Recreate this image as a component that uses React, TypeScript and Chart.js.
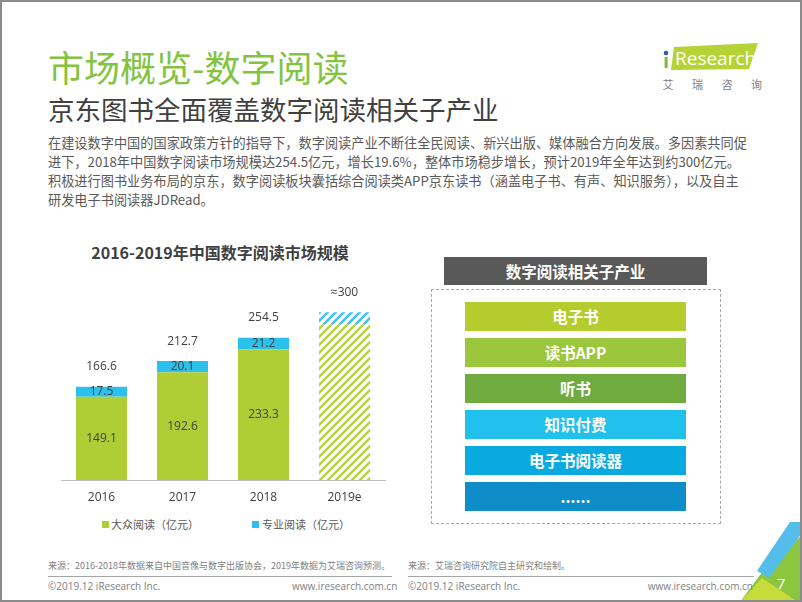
import React, { useEffect, useRef } from 'react';
import { Chart, registerables } from 'chart.js';

Chart.register(...registerables);

// ---------- data ----------
const years = ['2016', '2017', '2018', '2019e'];
const massReading = [149.1, 192.6, 233.3, 278];
const proReading = [17.5, 20.1, 21.2, 22];
const isEstimate = [false, false, false, true];
const seriesNames = ['大众阅读（亿元）', '专业阅读（亿元）'];
const chartTitle = '2016-2019年中国数字阅读市场规模';
const industryTitle = '数字阅读相关子产业';
const industries = ['电子书', '读书APP', '听书', '知识付费', '电子书阅读器', '......'];
const paragraphLines = [
  '在建设数字中国的国家政策方针的指导下，数字阅读产业不断往全民阅读、新兴出版、媒体融合方向发展。多因素共同促',
  '进下，2018年中国数字阅读市场规模达254.5亿元，增长19.6%，整体市场稳步增长，预计2019年全年达到约300亿元。',
  '积极进行图书业务布局的京东，数字阅读板块囊括综合阅读类APP京东读书（涵盖电子书、有声、知识服务），以及自主',
  '研发电子书阅读器JDRead。',
];

// ---------- styles ----------
const GREEN = '#afcd35';
const BLUE = '#2cc0ed';
const industryColors = ['#b5cc2e', '#9cc63c', '#70ab3f', '#21c0ed', '#0aaae1', '#0e8dc9'];
const CJK = "'Noto Sans CJK SC', 'Noto Sans', sans-serif";
const LATIN = "'Open Sans', 'Noto Sans CJK SC', sans-serif";

function stripes(color: string): CanvasPattern | string {
  const c = document.createElement('canvas');
  c.width = 8;
  c.height = 8;
  const g = c.getContext('2d');
  if (!g) return color;
  g.strokeStyle = color;
  g.lineWidth = 2.6;
  g.beginPath();
  g.moveTo(-1, 9); g.lineTo(9, -1);
  g.moveTo(-1, 1); g.lineTo(1, -1);
  g.moveTo(7, 9); g.lineTo(9, 7);
  g.stroke();
  return g.createPattern(c, 'repeat') || color;
}

const labelPlugin = {
  id: 'barLabels',
  afterDatasetsDraw(chart: any) {
    const ctx = chart.ctx;
    ctx.save();
    ctx.font = `12px ${LATIN}`;
    ctx.fillStyle = '#404040';
    ctx.textAlign = 'center';
    ctx.textBaseline = 'middle';
    chart.data.datasets.forEach((ds: any, di: number) => {
      const meta = chart.getDatasetMeta(di);
      meta.data.forEach((bar: any, i: number) => {
        if (isEstimate[i]) return;
        const { x, y, base } = bar.getProps(['x', 'y', 'base'], true);
        ctx.fillText(String(ds.data[i]), x, (y + base) / 2);
      });
    });
    const topMeta = chart.getDatasetMeta(chart.data.datasets.length - 1);
    topMeta.data.forEach((bar: any, i: number) => {
      const total = massReading[i] + proReading[i];
      const txt = isEstimate[i] ? '≈' + Math.round(total) : total.toFixed(1);
      ctx.fillText(txt, bar.x, bar.y - 20);
    });
    ctx.restore();
  },
};

function MarketChart() {
  const ref = useRef<HTMLCanvasElement | null>(null);
  useEffect(() => {
    if (!ref.current) return;
    const massColors = isEstimate.map((e) => (e ? stripes('#b9d340') : GREEN));
    const proColors = isEstimate.map((e) => (e ? stripes('#3cc3ee') : BLUE));
    const chart = new Chart(ref.current, {
      type: 'bar',
      data: {
        labels: years,
        datasets: [
          { label: seriesNames[0], data: massReading, backgroundColor: massColors as any, borderWidth: 0, barPercentage: 0.63, categoryPercentage: 1 },
          { label: seriesNames[1], data: proReading, backgroundColor: proColors as any, borderWidth: 0, barPercentage: 0.63, categoryPercentage: 1 },
        ],
      },
      options: {
        animation: false,
        responsive: false,
        maintainAspectRatio: false,
        layout: { padding: { left: 11, right: 10, top: 30, bottom: 0 } },
        plugins: { legend: { display: false }, tooltip: { enabled: false }, title: { display: false } },
        scales: {
          x: {
            stacked: true,
            grid: { display: false, drawTicks: false },
            border: { display: true, color: '#bfbfbf', width: 1 },
            ticks: { color: '#404040', font: { size: 12, family: LATIN }, padding: 10 },
            afterFit: (s: any) => { s.height = 30; },
          },
          y: { stacked: true, display: false, min: 0, max: 322 },
        },
      },
      plugins: [labelPlugin],
    });
    return () => chart.destroy();
  }, []);
  return <canvas ref={ref} width={345} height={240} style={{ position: 'absolute', left: 50, top: 270, width: 345, height: 240, display: 'block' }} />;
}

const abs = (s: React.CSSProperties): React.CSSProperties => ({ position: 'absolute', whiteSpace: 'nowrap', ...s });

export default function App() {
  return (
    <div style={{ position: 'absolute', left: 0, top: 0, width: 802, height: 602, background: '#fff', overflow: 'hidden', fontFamily: CJK }}>
      {/* titles */}
      <div style={abs({ left: 48, top: 46, fontSize: 36, lineHeight: '40px', color: '#84c341' })}>市场概览-数字阅读</div>
      <div style={abs({ left: 48, top: 94, fontSize: 26.5, lineHeight: '30px', color: '#404040' })}>京东图书全面覆盖数字阅读相关子产业</div>

      {/* logo */}
      <svg style={{ position: 'absolute', left: 0, top: 0 }} width={802} height={602}>
        <polygon points="674,47 758,43 749,69 671,70" fill="#b5d334" />
        <text x={675} y={65} fontSize={19} fill="#fff" fontFamily={LATIN}>Research</text>
        <circle cx={666} cy={53} r={2.3} fill="#2a5ea8" />
        <rect x={664.6} y={57} width={3} height={11} fill="#7fb93a" />
        {['艾', '瑞', '咨', '询'].map((ch, i) => (
          <text key={ch} x={668 + i * 29.5} y={89} fontSize={11} fill="#808080" textAnchor="middle" fontFamily={CJK}>{ch}</text>
        ))}
        {/* corner decoration */}
        <polygon points="740,602 760,575 802,535 802,602" fill="#8cc63f" />
        <polygon points="740,602 762,578 798,602" fill="#c6dc3a" />
        <polygon points="790,522 802,522 802,533 769,578 757,571" fill="#55bde9" />
        <text x={781} y={589} fontSize={15} fill="#fff" textAnchor="middle" fontFamily={LATIN}>7</text>
      </svg>

      {/* paragraph */}
      {paragraphLines.map((t, i) => (
        <div key={i} style={abs({ left: 48, top: 132.5 + i * 19, fontSize: 13.2, lineHeight: '19px', color: '#595959' })}>{t}</div>
      ))}

      {/* chart */}
      <div style={abs({ left: 20, width: 400, top: 242, fontSize: 16, fontWeight: 700, lineHeight: '20px', color: '#404040', textAlign: 'center' })}>{chartTitle}</div>
      <MarketChart />
      <div style={abs({ left: 102, top: 521, width: 7, height: 7, background: GREEN })} />
      <div style={abs({ left: 111, top: 516, fontSize: 11, lineHeight: '16px', color: '#595959' })}>{seriesNames[0]}</div>
      <div style={abs({ left: 252, top: 521, width: 7, height: 7, background: BLUE })} />
      <div style={abs({ left: 262, top: 516, fontSize: 11, lineHeight: '16px', color: '#595959' })}>{seriesNames[1]}</div>

      {/* industry diagram */}
      <div style={abs({ left: 444, top: 257, width: 263, height: 28, background: '#595959', color: '#fff', fontSize: 15.5, fontWeight: 700, lineHeight: '28px', textAlign: 'center' })}>{industryTitle}</div>
      <div style={abs({ left: 431, top: 289, width: 288, height: 233, border: '1px dashed #a6a6a6' })} />
      {industries.map((t, i) => (
        <div key={t} style={abs({ left: 465, top: 302 + i * 36, width: 221, height: 29, background: industryColors[i], color: '#fff', fontSize: 15.5, fontWeight: 700, lineHeight: '29px', textAlign: 'center' })}>{t}</div>
      ))}

      {/* footers */}
      <div style={abs({ left: 48, top: 560, fontSize: 9, lineHeight: '12px', color: '#7f7f7f' })}>来源：2016-2018年数据来自中国音像与数字出版协会，2019年数据为艾瑞咨询预测。</div>
      <div style={abs({ left: 48, top: 576, width: 344, height: 1, background: '#a6a6a6' })} />
      <div style={abs({ left: 48, top: 580, fontSize: 10, lineHeight: '13px', color: '#7f7f7f', fontFamily: LATIN })}>©2019.12 iResearch Inc.</div>
      <div style={abs({ left: 292, width: 98, top: 580, fontSize: 10, lineHeight: '13px', color: '#7f7f7f', fontFamily: LATIN, textAlign: 'right' })}>www.iresearch.com.cn</div>

      <div style={abs({ left: 408, top: 560, fontSize: 9, lineHeight: '12px', color: '#7f7f7f' })}>来源：艾瑞咨询研究院自主研究和绘制。</div>
      <div style={abs({ left: 408, top: 576, width: 346, height: 1, background: '#a6a6a6' })} />
      <div style={abs({ left: 408, top: 580, fontSize: 10, lineHeight: '13px', color: '#7f7f7f', fontFamily: LATIN })}>©2019.12 iResearch Inc.</div>
      <div style={abs({ left: 640, width: 113, top: 580, fontSize: 10, lineHeight: '13px', color: '#7f7f7f', fontFamily: LATIN, textAlign: 'right' })}>www.iresearch.com.cn</div>

      {/* frame */}
      <div style={{ position: 'absolute', left: 0, top: 0, width: 802, height: 602, boxSizing: 'border-box', border: '2px solid #8a8a8a', pointerEvents: 'none' }} />
    </div>
  );
}
